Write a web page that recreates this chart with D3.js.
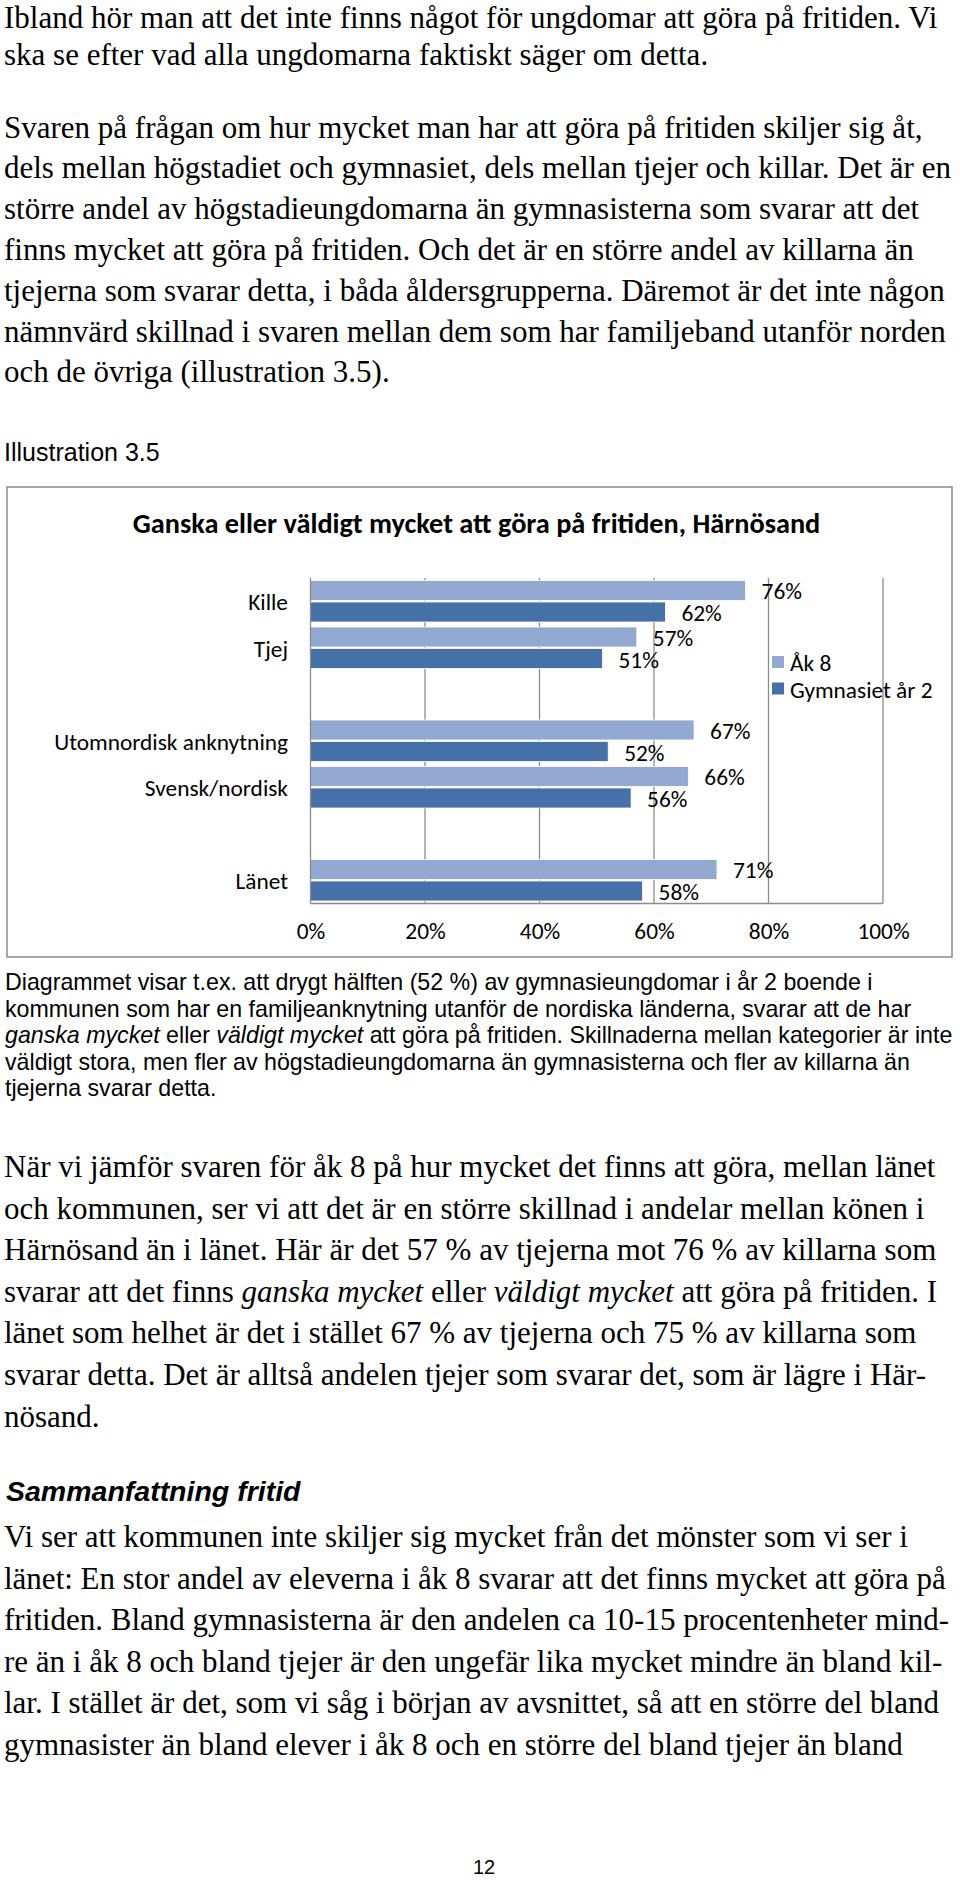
<!DOCTYPE html>
<html><head><meta charset="utf-8">
<script src="https://cdn.jsdelivr.net/npm/d3@7/dist/d3.min.js"></script>
<style>
html,body{margin:0;padding:0;background:#fff;}
svg{display:block;}
text{white-space:pre;}
</style></head>
<body>
<svg id="page" width="960" height="1880"></svg>
<script>
// ---- chart data ----
const categories = ["Kille","Tjej","","Utomnordisk anknytning","Svensk/nordisk","","Länet"];
const seriesNames = ["Åk 8","Gymnasiet år 2"];
const ak8Values  = [0.76, 0.57, null, 0.67, 0.66, null, 0.71];
const gymnValues = [0.62, 0.51, null, 0.52, 0.56, null, 0.58];
const xTicks = [0, 0.2, 0.4, 0.6, 0.8, 1.0];
const xTickLabels = ["0%","20%","40%","60%","80%","100%"];
const chartTitle = "Ganska eller väldigt mycket att göra på fritiden, Härnösand";
const seriesColors = ["#94a9d1", "#4670a8"];

// ---- page text ----
const para1 = [
 "Ibland hör man att det inte finns något för ungdomar att göra på fritiden. Vi",
 "ska se efter vad alla ungdomarna faktiskt säger om detta."
];
const para2 = [
 "Svaren på frågan om hur mycket man har att göra på fritiden skiljer sig åt,",
 "dels mellan högstadiet och gymnasiet, dels mellan tjejer och killar. Det är en",
 "större andel av högstadieungdomarna än gymnasisterna som svarar att det",
 "finns mycket att göra på fritiden. Och det är en större andel av killarna än",
 "tjejerna som svarar detta, i båda åldersgrupperna. Däremot är det inte någon",
 "nämnvärd skillnad i svaren mellan dem som har familjeband utanför norden",
 "och de övriga (illustration 3.5)."
];
const captionLines = [
 "Diagrammet visar t.ex. att drygt hälften (52 %) av gymnasieungdomar i år 2 boende i",
 "kommunen som har en familjeanknytning utanför de nordiska länderna, svarar att de har",
 "*ganska mycket* eller *väldigt mycket* att göra på fritiden. Skillnaderna mellan kategorier är inte",
 "väldigt stora, men fler av högstadieungdomarna än gymnasisterna och fler av killarna än",
 "tjejerna svarar detta."
];
const para3 = [
 "När vi jämför svaren för åk 8 på hur mycket det finns att göra, mellan länet",
 "och kommunen, ser vi att det är en större skillnad i andelar mellan könen i",
 "Härnösand än i länet. Här är det 57 % av tjejerna mot 76 % av killarna som",
 "svarar att det finns *ganska mycket* eller *väldigt mycket* att göra på fritiden. I",
 "länet som helhet är det i stället 67 % av tjejerna och 75 % av killarna som",
 "svarar detta. Det är alltså andelen tjejer som svarar det, som är lägre i Här-",
 "nösand."
];
const para4 = [
 "Vi ser att kommunen inte skiljer sig mycket från det mönster som vi ser i",
 "länet: En stor andel av eleverna i åk 8 svarar att det finns mycket att göra på",
 "fritiden. Bland gymnasisterna är den andelen ca 10-15 procentenheter mind-",
 "re än i åk 8 och bland tjejer är den ungefär lika mycket mindre än bland kil-",
 "lar. I stället är det, som vi såg i början av avsnittet, så att en större del bland",
 "gymnasister än bland elever i åk 8 och en större del bland tjejer än bland"
];

const svg = d3.select("#page");
const SERIF = "'Liberation Serif','Times New Roman',serif";
const SANS = "'Liberation Sans',Arial,sans-serif";
const CHARTF = "Carlito,Calibri,Lato,sans-serif";

function writeLines(lines, x, y0, dy, family, size, color){
  lines.forEach((ln, i) => {
    const t = svg.append("text").attr("x", x).attr("y", y0 + i*dy)
      .attr("font-family", family).attr("font-size", size).attr("fill", color || "#000");
    ln.split("*").forEach((seg, j) => {
      if (!seg) return;
      const s = t.append("tspan").text(seg);
      if (j % 2 === 1) s.attr("font-style", "italic");
    });
  });
}
function fitSize(text, family, weight, base, target){
  const t = svg.append("text").attr("font-family", family).attr("font-weight", weight)
    .attr("font-size", base).text(text);
  const w = t.node().getComputedTextLength();
  t.remove();
  return base * target / w;
}

// body text
writeLines([para1[0]], 4, 28, 41, SERIF, 31);
writeLines([para1[1]], 4, 65, 41, SERIF, 31);
writeLines(para2, 4, 137.5, 40.8, SERIF, 31);
svg.append("text").attr("x", 4).attr("y", 461).attr("font-family", SANS)
  .attr("font-size", 25).text("Illustration 3.5");

// ---- chart ----
const frame = {x0: 7, y0: 487, x1: 952, y1: 957};
svg.append("rect").attr("x", frame.x0).attr("y", frame.y0)
  .attr("width", frame.x1 - frame.x0).attr("height", frame.y1 - frame.y0)
  .attr("fill", "#fff").attr("stroke", "#8a8a8a").attr("stroke-width", 1.5);

const labelSize = fitSize("Utomnordisk anknytning", CHARTF, 400, 20, 234);
const titleSize = fitSize(chartTitle, CHARTF, 700, 22, 688);

svg.append("text").attr("x", 476.5).attr("y", 533)
  .attr("text-anchor", "middle").attr("font-family", CHARTF).attr("font-weight", 700)
  .attr("font-size", titleSize).attr("fill", "#000").text(chartTitle);

const plot = {left: 310.5, right: 883, top: 578, bottom: 903.5};
const x = d3.scaleLinear().domain([0, 1]).range([plot.left, plot.right]);
const y0 = d3.scaleBand().domain(d3.range(categories.length)).range([plot.top, plot.bottom]).padding(0);
const y1 = d3.scaleBand().domain([0, 1]).range([0, y0.bandwidth()]).paddingInner(0.07).paddingOuter(0.116);

const g = svg.append("g");
// gridlines
g.selectAll("line.grid").data(xTicks.slice(1)).join("line").attr("class", "grid")
  .attr("x1", d => x(d)).attr("x2", d => x(d)).attr("y1", plot.top).attr("y2", plot.bottom)
  .attr("stroke", "#8c8c8c").attr("stroke-width", 1.3);

const rows = categories.map((c, i) => ({i, c, vals: [ak8Values[i], gymnValues[i]]}));
const bars = [];
rows.forEach(r => r.vals.forEach((v, s) => { if (v != null) bars.push({i: r.i, s, v}); }));

g.selectAll("rect.bar").data(bars).join("rect").attr("class", "bar")
  .attr("x", x(0)).attr("y", d => y0(d.i) + y1(d.s))
  .attr("width", d => x(d.v) - x(0)).attr("height", y1.bandwidth())
  .attr("fill", d => seriesColors[d.s]).attr("stroke", "#fff").attr("stroke-width", 0.8);

// axes lines
g.append("line").attr("x1", x(0)).attr("x2", x(0)).attr("y1", plot.top).attr("y2", plot.bottom)
  .attr("stroke", "#8c8c8c").attr("stroke-width", 1.3);
g.append("line").attr("x1", x(0)).attr("x2", x(1)).attr("y1", plot.bottom).attr("y2", plot.bottom)
  .attr("stroke", "#8c8c8c").attr("stroke-width", 1.3);

// data labels
g.selectAll("text.dl").data(bars).join("text").attr("class", "dl")
  .attr("x", d => x(d.v) + 16).attr("y", d => y0(d.i) + y1(d.s) + y1.bandwidth()/2 + 1)
  .attr("dominant-baseline", "central").attr("font-family", CHARTF).attr("font-size", labelSize)
  .attr("fill", "#000").text(d => Math.round(d.v*100) + "%");

// category labels
g.selectAll("text.cat").data(rows.filter(r => r.c)).join("text").attr("class", "cat")
  .attr("x", 288).attr("y", d => y0(d.i) + y0.bandwidth()/2 + 1)
  .attr("text-anchor", "end").attr("dominant-baseline", "central")
  .attr("font-family", CHARTF).attr("font-size", labelSize).attr("fill", "#000").text(d => d.c);

// x axis tick labels
const xAxis = d3.axisBottom(x).tickValues(xTicks).tickSize(0).tickPadding(0)
  .tickFormat((d, i) => xTickLabels[i]);
const ax = svg.append("g").attr("transform", `translate(0,${plot.bottom})`).call(xAxis);
ax.select(".domain").remove();
ax.selectAll("text").attr("font-family", CHARTF).attr("font-size", labelSize)
  .attr("fill", "#000").attr("dy", null).attr("y", 35.5);

// legend
const lg = svg.append("g").attr("transform", "translate(772,656)");
seriesNames.forEach((nm, i) => {
  lg.append("rect").attr("x", 0).attr("y", i*26.5).attr("width", 12).attr("height", 12)
    .attr("fill", seriesColors[i]);
  lg.append("text").attr("x", 18).attr("y", i*26.5 + 7).attr("dominant-baseline", "central")
    .attr("font-family", CHARTF).attr("font-size", labelSize).attr("fill", "#000").text(nm);
});

// caption
writeLines(captionLines, 5, 990, 26.5, SANS, 23.2);

// lower text
writeLines(para3, 4, 1177, 41.6, SERIF, 31);
svg.append("text").attr("x", 6).attr("y", 1501).attr("font-family", SANS)
  .attr("font-weight", 700).attr("font-style", "italic").attr("font-size", 28.5)
  .text("Sammanfattning fritid");
writeLines(para4, 4, 1547, 41.6, SERIF, 31);

svg.append("text").attr("x", 484).attr("y", 1874).attr("text-anchor", "middle")
  .attr("font-family", SANS).attr("font-size", 20).text("12");
</script>
</body></html>
